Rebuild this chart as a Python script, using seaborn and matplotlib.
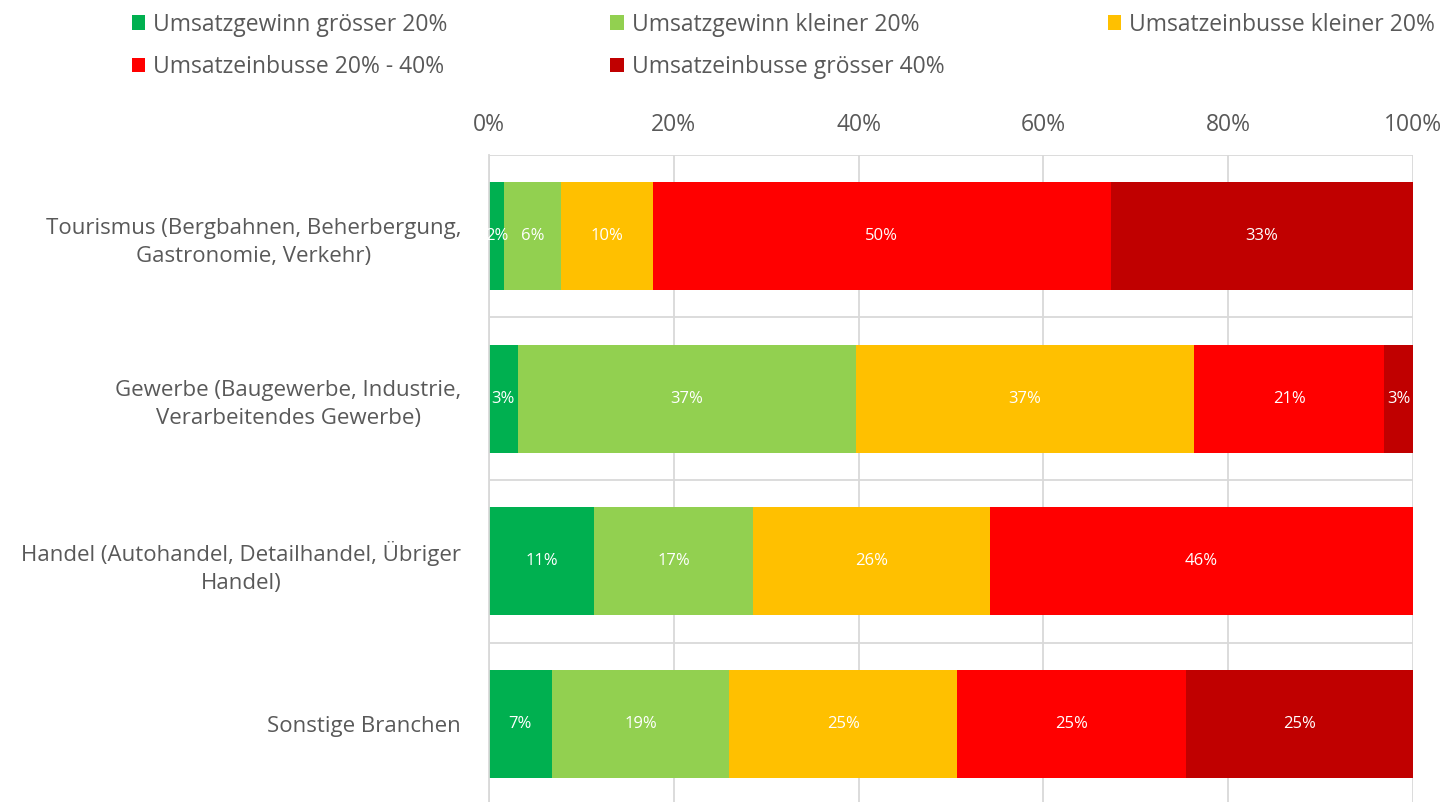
import numpy as np
import pandas as pd
import matplotlib
matplotlib.use("Agg")
import matplotlib.pyplot as plt
from matplotlib.patches import Patch
from matplotlib.ticker import FixedLocator, PercentFormatter
import seaborn as sns

# Daten (Anteile in %)
branchen = [
    "Tourismus (Bergbahnen, Beherbergung,\nGastronomie, Verkehr)",
    "Gewerbe (Baugewerbe, Industrie,\nVerarbeitendes Gewerbe)",
    "Handel (Autohandel, Detailhandel, Übriger\nHandel)",
    "Sonstige Branchen",
]
kategorien = [
    "Umsatzgewinn grösser 20%",
    "Umsatzgewinn kleiner 20%",
    "Umsatzeinbusse kleiner 20%",
    "Umsatzeinbusse 20% - 40%",
    "Umsatzeinbusse grösser 40%",
]
gewinn_gross = [1.6, 3.1, 11.4, 6.8]
gewinn_klein = [6.2, 36.6, 17.2, 19.2]
einbusse_klein = [9.9, 36.6, 25.6, 24.7]
einbusse_mittel = [49.6, 20.6, 45.8, 24.7]
einbusse_gross = [32.7, 3.1, 0.0, 24.6]

farben = ["#00B050", "#92D050", "#FFC000", "#FF0000", "#C00000"]
grau = "#595959"

sns.set_theme(style="white")
plt.rcParams["font.family"] = ["Open Sans", "DejaVu Sans"]

df = pd.DataFrame(
    np.array([gewinn_gross, gewinn_klein, einbusse_klein, einbusse_mittel, einbusse_gross]).T,
    index=branchen, columns=kategorien,
)
kum = df.cumsum(axis=1)

fig = plt.figure(figsize=(14.45, 8.02), dpi=100)
ax = fig.add_axes([489 / 1445, 1 - 805 / 802, (1413 - 489) / 1445, 650 / 802])

# gestapelte Balken: von hinten nach vorne zeichnen
for kat, farbe in reversed(list(zip(kategorien, farben))):
    sns.barplot(x=kum[kat].values, y=branchen, color=farbe, width=0.667,
                orient="h", ax=ax, saturation=1, linewidth=0, zorder=2)

# Beschriftungen in den Segmenten
for i, b in enumerate(branchen):
    links = 0.0
    for kat in kategorien:
        v = df.loc[b, kat]
        if v > 0:
            ax.text(links + v / 2, i, f"{v:.0f}%", ha="center", va="center",
                    color="white", fontsize=12, zorder=3)
        links += v

ax.set_xlim(0, 100)
ax.set_ylim(3.5, -0.5)
ax.xaxis.tick_top()
ax.xaxis.set_major_locator(FixedLocator([0, 20, 40, 60, 80, 100]))
ax.xaxis.set_major_formatter(PercentFormatter(decimals=0))
ax.yaxis.set_minor_locator(FixedLocator([-0.5, 0.5, 1.5, 2.5]))
ax.grid(axis="x", which="major", color="#D9D9D9", linewidth=1.3, zorder=0)
ax.grid(axis="y", which="minor", color="#D9D9D9", linewidth=1.3, zorder=0)
ax.set_axisbelow(True)
ax.tick_params(axis="x", length=0, pad=13, labelsize=16.5, colors=grau)
ax.tick_params(axis="y", which="both", length=0, pad=20, labelsize=16, colors=grau)
for lbl in ax.get_yticklabels():
    lbl.set_multialignment("center")
    lbl.set_linespacing(1.45)
for s in ["top", "right", "bottom"]:
    ax.spines[s].set_visible(False)
ax.spines["left"].set_color("#D9D9D9")
ax.spines["left"].set_linewidth(1.3)
ax.set_xlabel("")
ax.set_ylabel("")

# Legende zeilenweise wie im Original (matplotlib füllt spaltenweise)
reihenfolge = [0, 3, 1, 4, 2]
handles = [Patch(facecolor=farben[k], edgecolor="none") for k in reihenfolge]
labels = [kategorien[k] for k in reihenfolge]
fig.legend(handles, labels, loc="upper left", bbox_to_anchor=(111 / 1445, 1.01),
           ncol=3, frameon=False, fontsize=16.5, labelcolor=grau,
           handlelength=0.6, handleheight=0.6, handletextpad=0.35,
           columnspacing=7.1, labelspacing=0.8)

fig.savefig("out.png", dpi=100)
